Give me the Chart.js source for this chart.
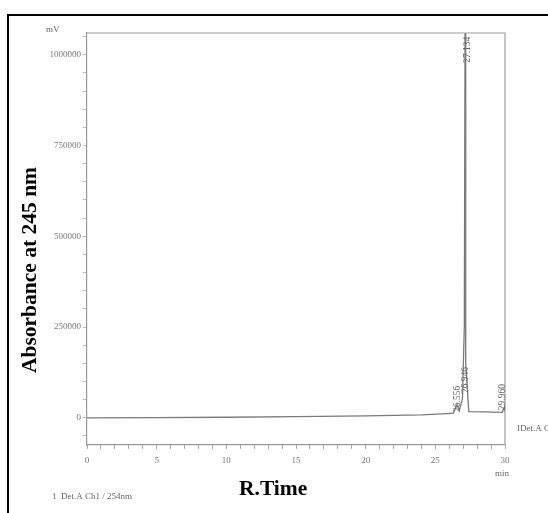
<!DOCTYPE html>
<html>
<head>
<meta charset="utf-8">
<script src="https://cdn.jsdelivr.net/npm/chart.js@4.4.1/dist/chart.umd.min.js"></script>
<style>
  html, body { margin: 0; padding: 0; background: #fff; overflow: hidden; }
  #wrap { position: relative; width: 548px; height: 513px; }
  #frame { position: absolute; left: 7px; top: 14px; width: 560px; height: 520px; border: 2px solid #000; box-sizing: border-box; pointer-events: none; }
  canvas { position: absolute; left: 0; top: 0; }
  .ttl { position: absolute; font-family: "Liberation Serif", serif; font-weight: bold; font-size: 21.5px; color: #000; white-space: nowrap; line-height: 1; }
  #ytitle { left: 30px; top: 270px; transform: translate(-50%, -50%) rotate(-90deg); }
  #xtitle { left: 239px; top: 478px; }
</style>
</head>
<body>
<div id="wrap">
  <canvas id="chart" width="548" height="513"></canvas>
  <div id="frame"></div>
  <div class="ttl" id="ytitle">Absorbance at 245 nm</div>
  <div class="ttl" id="xtitle">R.Time</div>
</div>
<script>
// trace (min, signal)
const retTimes = [0, 5, 10, 15, 20, 24, 25.5, 26.3, 26.556, 26.72, 26.946, 27.08, 27.134, 27.18, 27.4, 28.5, 29.8, 29.96, 30];
const signal   = [0, 500, 1500, 3000, 5000, 8000, 11000, 13000, 36000, 20000, 52000, 250000, 1080000, 150000, 17000, 16000, 15000, 30000, 16000];

// peak labels: text, where the label sits (time, signal) and which way it runs from there
const peakLabels = ['26.556', '26.946', '27.134', '29.960'];
const labelTimes = [26.56, 27.2, 27.3, 29.8];
const labelLevel = [16000, 68000, 1050000, 21000];
const labelAlign = ['left', 'left', 'right', 'left'];

const yLabelled = [0, 250000, 500000, 750000, 1000000];

const tickFont = { family: 'Liberation Serif', size: 9 };

// frame + extra text drawn on the canvas
const annotations = {
  id: 'annotations',
  afterDatasetsDraw(chart) {
    const { ctx, chartArea, scales } = chart;
    ctx.save();
    ctx.strokeStyle = '#a0a0a0';
    ctx.lineWidth = 1.2;
    ctx.beginPath();
    ctx.moveTo(chartArea.left, chartArea.top);
    ctx.lineTo(chartArea.right, chartArea.top);
    ctx.lineTo(chartArea.right, chartArea.bottom);
    ctx.stroke();

    ctx.fillStyle = '#666';
    ctx.font = '9.5px "Liberation Serif"';
    peakLabels.forEach((txt, i) => {
      const x = scales.x.getPixelForValue(labelTimes[i]);
      const y = scales.y.getPixelForValue(labelLevel[i]);
      ctx.save();
      ctx.translate(x, y);
      ctx.rotate(-Math.PI / 2);
      ctx.textAlign = labelAlign[i];
      ctx.textBaseline = 'middle';
      ctx.fillText(txt, 0, 0);
      ctx.restore();
    });

    ctx.font = '9px "Liberation Serif"';
    ctx.textBaseline = 'middle';
    ctx.textAlign = 'left';
    ctx.fillText('mV', 46, 30);
    ctx.fillText('min', 495, 474);
    ctx.fillText('IDet.A Ch1', 517, 429);
    ctx.fillText('1  Det.A Ch1 / 254nm', 52, 497);
    ctx.restore();
  }
};

new Chart(document.getElementById('chart'), {
  type: 'scatter',
  data: {
    datasets: [{
      label: 'Det.A Ch1',
      data: retTimes.map((t, i) => ({ x: t, y: signal[i] })),
      showLine: true,
      borderColor: '#7a7a7a',
      borderWidth: 1.3,
      pointRadius: 0,
      tension: 0
    }]
  },
  options: {
    responsive: false,
    animation: false,
    layout: { padding: { left: 0, top: 33, right: 43, bottom: 0 } },
    plugins: { legend: { display: false }, tooltip: { enabled: false } },
    scales: {
      x: {
        type: 'linear',
        min: 0,
        max: 30,
        afterFit(scale) { scale.height = 68; },
        afterBuildTicks(scale) {
          const t = [];
          for (let v = 0; v <= 30; v++) t.push({ value: v });
          scale.ticks = t;
        },
        ticks: {
          autoSkip: false,
          maxRotation: 0,
          color: '#777',
          font: tickFont,
          padding: 6,
          callback: v => (v % 5 === 0 ? String(v) : '')
        },
        grid: { drawOnChartArea: false, color: '#aaa', tickLength: 4 },
        border: { color: '#999', width: 1.2 }
      },
      y: {
        min: -75000,
        max: 1060000,
        afterFit(scale) { scale.width = 87; },
        afterBuildTicks(scale) {
          const t = [];
          for (let v = -50000; v <= 1050000; v += 50000) t.push({ value: v });
          scale.ticks = t;
        },
        ticks: {
          autoSkip: false,
          color: '#777',
          font: tickFont,
          padding: 2,
          callback: v => (yLabelled.includes(v) ? String(v) : '')
        },
        grid: { drawOnChartArea: false, color: '#bbb', tickLength: 4 },
        border: { color: '#999', width: 1.2 }
      }
    }
  },
  plugins: [annotations]
});
</script>
</body>
</html>
